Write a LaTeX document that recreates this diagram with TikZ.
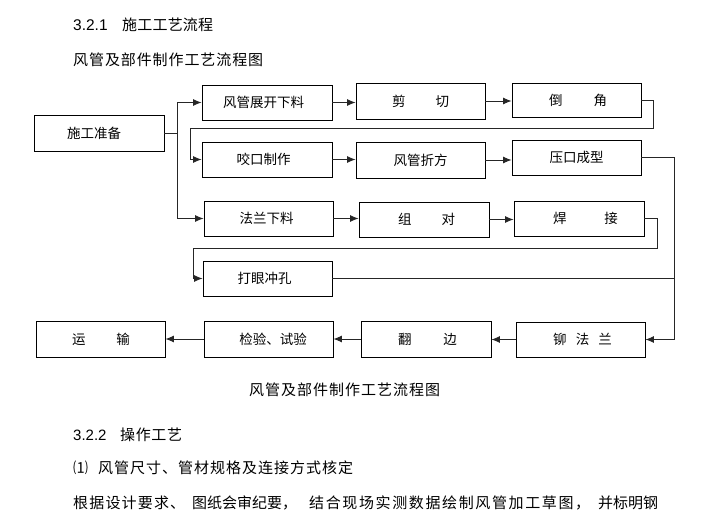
\documentclass[tikz,border=0pt]{standalone}
\usepackage{fontspec}
\setmainfont{Liberation Sans}
\newfontfamily\cjk{Noto Sans CJK SC}
\newfontfamily\latin{Liberation Sans}
\usetikzlibrary{arrows.meta}
\makeatletter
\def\sprd@#1{\ifx\relax#1\else\hfil#1\expandafter\sprd@\fi}
\def\sprd@first#1{#1\sprd@}
\newcommand\spreadbox[2]{\makebox[#1][s]{\sprd@first#2\relax}}
\makeatother
\begin{document}
\begin{tikzpicture}[x=1pt,y=-1pt,
  box/.style={draw=black, line width=0.9pt, rectangle, inner sep=0pt, font=\cjk\fontsize{13.5}{15}\selectfont},
  bx/.style 2 args={box, minimum width=#1pt, minimum height=#2pt},
  txt/.style={anchor=west, inner sep=0pt, font=\cjk\fontsize{15}{18}\selectfont},
  ln/.style={line width=0.9pt, draw=black!85},
  arr/.style={ln, -{Latex[length=8.5pt,width=7pt]}}]
\useasboundingbox (0,0) rectangle (710,525);
% headings and texts
\node[txt] (h1) at (73,25) {{\latin\fontsize{15.5}{18}\selectfont 3.2.1}\hspace{14.5pt}\spreadbox{91pt}{施工工艺流程}};
\node[txt] (h2) at (73,60) {\spreadbox{190pt}{风管及部件制作工艺流程图}};
\node[txt] (cap) at (249,390) {\spreadbox{191pt}{风管及部件制作工艺流程图}};
\node[txt] (h3) at (73,435) {{\latin 3.2.2}\hspace{13.6pt}\spreadbox{62pt}{操作工艺}};
\node[txt] (p1) at (73,468) {\makebox[25pt][l]{⑴}\spreadbox{255pt}{风管尺寸、管材规格及连接方式核定}};
\node[txt] (p2) at (73,503) {\spreadbox{112pt}{根据设计要求、}\hspace{7pt}\spreadbox{105pt}{图纸会审纪要，}\hspace{12pt}\spreadbox{281pt}{结合现场实测数据绘制风管加工草图，}\hspace{8pt}\spreadbox{60pt}{并标明钢}};
% boxes
\node[bx={130}{36}] (sg) at (99,133) {\hspace*{-10pt}施工准备};
\node[bx={130}{35}] (zk) at (267,102.5) {\hspace*{-7pt}风管展开下料};
\node[bx={129}{36}] (jq) at (420.5,101) {\spreadbox{57pt}{剪切}};
\node[bx={129}{34}] (dj) at (576.5,100) {\hspace*{3pt}\spreadbox{58pt}{倒角}};
\node[bx={130}{35}] (yk) at (267,159.5) {\hspace*{-7pt}咬口制作};
\node[bx={129}{36}] (zf) at (420.5,160) {风管折方};
\node[bx={129}{35}] (yx) at (576.5,157.5) {压口成型};
\node[bx={129}{35}] (fl) at (268.5,218.5) {\hspace*{-4pt}法兰下料};
\node[bx={130}{35}] (zd) at (424,219.5) {\hspace*{5pt}\spreadbox{57pt}{组对}};
\node[bx={130}{35}] (hj) at (579,218.5) {\hspace*{13pt}\spreadbox{65pt}{焊接}};
\node[bx={129}{35}] (dy) at (267.5,278.5) {\hspace*{-6pt}打眼冲孔};
\node[bx={129}{35}] (mf) at (580.5,339.5) {\hspace*{4pt}\spreadbox{59pt}{铆法兰}};
\node[bx={130}{36}] (fb) at (426,339) {\hspace*{3pt}\spreadbox{59pt}{翻边}};
\node[bx={129}{36}] (jy) at (268.5,339) {\hspace*{9pt}检验、试验};
\node[bx={129}{36}] (ys) at (100.5,339) {\hspace*{1pt}\spreadbox{58pt}{运输}};
% connectors
\coordinate (j) at (177,133);
\draw[ln] (sg.east) -- (j);
\draw[arr] (j) |- (zk.west);
\draw[arr] (j) |- (fl.west);
\draw[arr] (zk.east) -- (zk.east -| jq.west);
\draw[arr] (jq.east) -- (jq.east -| dj.west);
\coordinate (r1) at (653,128);
\coordinate (l1) at (190,128);
\draw[arr] (dj.east) -| (r1) -- (l1) |- (yk.west);
\draw[arr] (yk.east) -- (yk.east -| zf.west);
\draw[arr] (zf.east) -- (zf.east -| yx.west);
\coordinate (r2) at (674,339.5);
\draw[arr] (yx.east) -| (r2) -- (mf.east);
\draw[arr] (fl.east) -- (fl.east -| zd.west);
\draw[arr] (zd.east) -- (zd.east -| hj.west);
\coordinate (r3) at (657,248);
\coordinate (l3) at (193,248);
\draw[arr] (hj.east) -| (r3) -- (l3) |- (dy.west);
\draw[ln] (dy.east) -- (dy.east -| r2);
\draw[arr] (mf.west) -- (mf.west -| fb.east);
\draw[arr] (fb.west) -- (fb.west -| jy.east);
\draw[arr] (jy.west) -- (jy.west -| ys.east);
\end{tikzpicture}
\end{document}
